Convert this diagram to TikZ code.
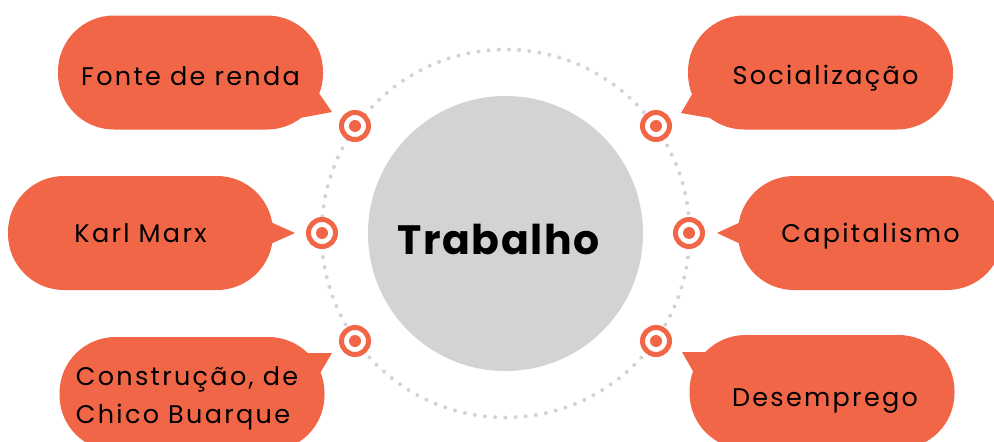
\documentclass[tikz,border=0pt]{standalone}
\usepackage{fontspec}
\setmainfont{Poppins}[LetterSpace=9]
\usepackage{tikz}

\definecolor{coral}{HTML}{F16646}
\definecolor{ringgray}{HTML}{D1D3D4}

\begin{document}
\begin{tikzpicture}[x=1pt, y=-1pt,
    label text/.style={font=\fontsize{25.5}{38}\selectfont},
    bubble/.style={fill=coral, rounded corners=56pt, minimum width=265pt, minimum height=114pt,
        text height=18pt, text depth=5pt, label text},
    tail/.style={fill=coral},
    marker/.style={circle, draw=coral, line width=5pt, fill=white, minimum size=27pt, inner sep=0pt,
        path picture={\fill[coral] (path picture bounding box.center) circle (6pt);}}]
    \clip (0,0) rectangle (994,442);
    % Centre and dotted ring
        \draw[ringgray, line width=4pt, line cap=round, dash pattern=on 0pt off 10.2pt] (505.5,233.5) circle (184pt);
        \node[circle, fill=ringgray, minimum size=275pt, inner sep=0pt] (centre) at (505.5,233.5) {};
        \node[font=\fontsize{41}{48}\bfseries\selectfont\addfontfeature{LetterSpace=4}] (titulo) at (498.5,239) {Trabalho};
    % Bubbles
        \node[bubble] (fonte) at (190.5,72.5) {\raisebox{-6pt}{Fonte de renda}};
        \node[bubble] (marx) at (140.5,233) {\raisebox{-2.5pt}{Karl Marx}};
        \node[bubble] (chico) at (192,394) {};
        \node[label text, align=left] (chicotxt) at (187,398) {Construção, de\\Chico Buarque};
        \node[bubble] (social) at (820.5,72.5) {\hspace*{10pt}\raisebox{-5pt}{Socialização}};
        \node[bubble] (capital) at (870.5,233) {\raisebox{-2.5pt}{Capitalismo}};
        \node[bubble] (desemp) at (822,392) {\hspace*{6pt}\raisebox{-7.5pt}{Desemprego}};
    % Tails
        \coordinate (t1) at (332,112);
        \coordinate (t2) at (295,233);
        \coordinate (t3) at (332,353);
        \coordinate (t4) at (681,113);
        \coordinate (t5) at (717,233);
        \coordinate (t6) at (682,352);
        \fill[tail] (314,86) -- (t1) -- (300,118) -- cycle;
        \fill[tail] (266,220) -- (t2) -- (266,246) -- cycle;
        \fill[tail] (300,353) -- (t3) -- (316,380) -- cycle;
        \fill[tail] (697,86) -- (t4) -- (710,118) -- cycle;
        \fill[tail] (745,220) -- (t5) -- (745,246) -- cycle;
        \fill[tail] (712,352) -- (t6) -- (698,380) -- cycle;
    % Markers
        \node[marker] (m1) at (355,126) {};
        \node[marker] (m2) at (322,233) {};
        \node[marker] (m3) at (355,341) {};
        \node[marker] (m4) at (656,126) {};
        \node[marker] (m5) at (689,233) {};
        \node[marker] (m6) at (656,341) {};
    \end{tikzpicture}
\end{document}
